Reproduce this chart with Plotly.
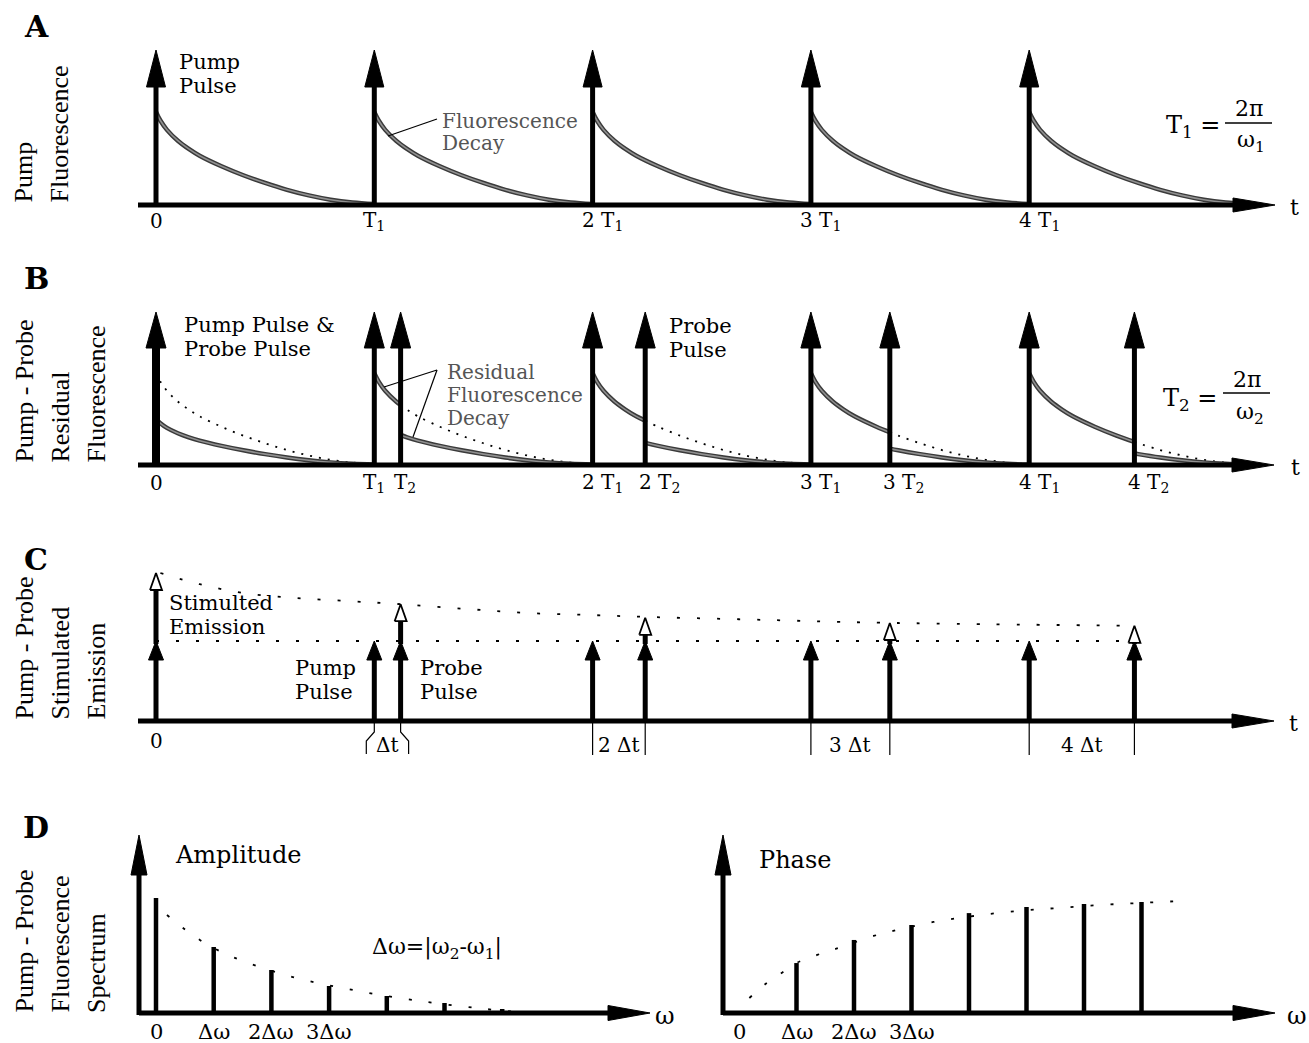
import numpy as np
import plotly.graph_objects as go

W, H = 1309, 1043
SERIF = "DejaVu Serif"
TALL = "Liberation Serif"

# ---------------- values ----------------
periods = [0, 1, 2, 3, 4]
probe_period = 1.1205                              # T2 expressed in units of T1
pump_t = [float(n) for n in periods]               # n*T1
probe_t = [n * probe_period for n in periods]      # n*T2
pump_labels = ["0", "T<sub>1</sub>", "2 T<sub>1</sub>", "3 T<sub>1</sub>", "4 T<sub>1</sub>"]
probe_labels = ["", "T<sub>2</sub>", "2 T<sub>2</sub>", "3 T<sub>2</sub>", "4 T<sub>2</sub>"]
delay_labels = ["", "\u0394t", "2 \u0394t", "3 \u0394t", "4 \u0394t"]

pulse_height = 1.0
decay_dt = [0.0, 0.02, 0.05, 0.10, 0.15, 0.20, 0.30, 0.40, 0.50, 0.60, 0.70, 0.80, 0.90, 1.00]
decay_h = [0.600, 0.545, 0.485, 0.415, 0.362, 0.318, 0.250, 0.192, 0.142, 0.098, 0.062, 0.034, 0.016, 0.006]
residual_fraction = 0.5

pump_height_C = 1.0
stim_tip = [1.85, 1.46, 1.29, 1.225, 1.19]
stim_env_t = [0.02, 0.2, 0.4, 0.63, 0.875, 1.12, 1.425, 1.70, 1.99, 2.26, 2.55, 2.845, 3.12, 3.40, 4.46]
stim_env_h = [1.85, 1.71, 1.60, 1.54, 1.50, 1.46, 1.40, 1.35, 1.325, 1.30, 1.28, 1.26, 1.24, 1.225, 1.19]

harmonics = [0, 1, 2, 3, 4, 5, 6]
amplitude = [1.0, 0.574, 0.374, 0.235, 0.148, 0.087, 0.035]
amp_env_f = [0.19, 0.76, 1.33, 2.37, 3.41, 4.45, 5.56, 6.26]
amp_env_v = [0.852, 0.635, 0.487, 0.313, 0.200, 0.113, 0.043, 0.009]
phase_harmonics = [1, 2, 3, 4, 5, 6, 7]
phase = [0.450, 0.658, 0.793, 0.900, 0.955, 0.982, 1.000]
phase_env_f = [0.18, 0.46, 0.74, 1.0, 1.36, 1.68, 2.34, 2.68, 3.38, 4.08, 4.84, 5.54, 6.27, 6.96, 7.69]
phase_env_v = [0.135, 0.261, 0.360, 0.450, 0.523, 0.577, 0.694, 0.739, 0.820, 0.874, 0.919, 0.946, 0.973, 0.991, 1.009]
freq_labels = ["0", "\u0394\u03c9", "2\u0394\u03c9", "3\u0394\u03c9"]

# ---------------- geometry of the panels (pixels) ----------------
class Panel:
    def __init__(self, n, x0, kx, base, ky, top, bottom):
        self.n = n
        self.xa = "x" if n == 1 else f"x{n}"
        self.ya = "y" if n == 1 else f"y{n}"
        self.x0, self.kx, self.base, self.ky = x0, kx, base, ky
        self.top, self.bottom = top, bottom

    def X(self, px):
        return (px - self.x0) / self.kx

    def Y(self, py):
        return (self.base - py) / self.ky

    def sx(self, px):
        return px / self.kx

    def sy(self, px):
        return px / self.ky


PA = Panel(1, 156, 218.3, 205, 155, 0, 250)
PB = Panel(2, 156, 218.3, 465, 153, 250, 540)
PC = Panel(3, 156, 218.3, 721, 80, 540, 800)
PDL = Panel(4, 156, 57.7, 1013, 115, 800, 1043)
PDR = Panel(5, 739, 57.5, 1013, 111, 800, 1043)
panels = [PA, PB, PC, PDL, PDR]

fig = go.Figure()


def line(p, xs, ys, color="black", width=5, dash=None, shape="linear"):
    fig.add_trace(go.Scatter(x=list(xs), y=list(ys), xaxis=p.xa, yaxis=p.ya, mode="lines",
                             line=dict(color=color, width=width, dash=dash, shape=shape),
                             hoverinfo="skip", showlegend=False))


def poly(p, xs, ys, fill="black", edge="black", lw=1):
    fig.add_trace(go.Scatter(x=xs, y=ys, xaxis=p.xa, yaxis=p.ya, mode="lines", fill="toself",
                             fillcolor=fill, line=dict(color=edge, width=lw),
                             hoverinfo="skip", showlegend=False))


def up_arrow(p, x, y0, tip, head_w, head_h, shaft_w, fill="black", edge_w=1):
    hb = tip - p.sy(head_h)
    line(p, [x, x], [y0, hb + p.sy(2)], width=shaft_w)
    hw = p.sx(head_w / 2)
    poly(p, [x - hw, x, x + hw, x - hw], [hb, tip, hb, hb], fill=fill, lw=edge_w)


def right_axis(p, start_px, tip_px, head_len=42, head_w=14, width=5):
    xs = p.X(start_px)
    xt = p.X(tip_px)
    hb = xt - p.sx(head_len)
    line(p, [xs, hb + p.sx(2)], [0, 0], width=width)
    hw = p.sy(head_w / 2)
    poly(p, [hb, xt, hb, hb], [hw, 0, -hw, hw])


def gray_curve(p, xs, ys):
    line(p, xs, ys, color="#3a3a3a", width=4.5, shape="spline")
    line(p, xs, ys, color="#909090", width=1.6, shape="spline")


DOT_FINE = "2px,7px"
DOT_WIDE = "3px,17px"

# ---------------- Panel A ----------------
for n in periods:
    gray_curve(PA, [pump_t[n] + d for d in decay_dt], decay_h)
right_axis(PA, 138, 1275)
for n in periods:
    up_arrow(PA, pump_t[n], 0, pulse_height, 19, 37, 5)

# ---------------- Panel B ----------------
dts = np.array(decay_dt)
hs = np.array(decay_h)
for n in periods:
    t0 = pump_t[n]
    s = probe_t[n] - t0
    if s <= 0:
        line(PB, t0 + dts, hs, width=1.8, dash=DOT_FINE, shape="spline")
        gray_curve(PB, t0 + dts, hs * residual_fraction)
    else:
        hs_s = float(np.interp(s, dts, hs))
        pre = dts < s
        xpre = np.r_[t0 + dts[pre], t0 + s]
        ypre = np.r_[hs[pre], hs_s]
        xpost = np.r_[t0 + s, t0 + dts[~pre]]
        ypost = np.r_[hs_s, hs[~pre]]
        line(PB, xpost, ypost, width=1.8, dash=DOT_FINE, shape="spline")
        gray_curve(PB, xpre, ypre)
        gray_curve(PB, xpost, ypost * residual_fraction)
right_axis(PB, 138, 1274)
for n in periods:
    up_arrow(PB, pump_t[n], 0, pulse_height, 20, 36, 8 if n == 0 else 5)
    if n > 0:
        up_arrow(PB, probe_t[n], 0, pulse_height, 20, 36, 5)

# ---------------- Panel C ----------------
line(PC, [pump_t[0], probe_t[-1]], [pump_height_C, pump_height_C], width=1.8, dash=DOT_WIDE)
line(PC, stim_env_t, stim_env_h, width=1.8, dash=DOT_WIDE, shape="spline")
right_axis(PC, 138, 1274)
for n in periods:
    up_arrow(PC, pump_t[n], 0, pump_height_C, 15, 19, 5)
    if n > 0:
        up_arrow(PC, probe_t[n], 0, pump_height_C, 15, 19, 5)
    up_arrow(PC, probe_t[n], pump_height_C - PC.sy(3), stim_tip[n], 12, 17, 5, fill="white", edge_w=1.8)
for n in periods[1:]:
    a, b = pump_t[n], probe_t[n]
    if n == 1:
        line(PC, [a, a, a - PC.sx(8), a - PC.sx(8)],
             [0, -PC.sy(11), -PC.sy(20), -PC.sy(33)], width=1.2)
        line(PC, [b, b, b + PC.sx(8), b + PC.sx(8)],
             [0, -PC.sy(11), -PC.sy(20), -PC.sy(33)], width=1.2)
    else:
        line(PC, [a, a], [0, -PC.sy(34)], width=1.2)
        line(PC, [b, b], [0, -PC.sy(34)], width=1.2)

# ---------------- Panel D ----------------
for p, v_start, h_tip, freqs, vals, ef, ev in [
        (PDL, 139, 650, harmonics, amplitude, amp_env_f, amp_env_v),
        (PDR, 723, 1275, phase_harmonics, phase, phase_env_f, phase_env_v)]:
    line(p, ef, ev, width=1.8, dash=DOT_WIDE, shape="spline")
    bx, by = [], []
    for f, v in zip(freqs, vals):
        bx += [f, f, None]
        by += [0, v, None]
    line(p, bx, by, width=4.5)
    right_axis(p, v_start, h_tip, head_len=42, head_w=15)
    up_arrow(p, p.X(v_start), p.Y(1015), p.Y(835), 16, 40, 5)

# ---------------- text ----------------
ann = []
shapes = []


def txt(s, x, y, size=21, color="black", xanchor="left", yanchor="middle",
        family=SERIF, angle=0):
    ann.append(dict(text=s, x=x / W, y=1 - y / H, xref="paper", yref="paper",
                    showarrow=False, xanchor=xanchor, yanchor=yanchor, textangle=angle,
                    font=dict(family=family, size=size, color=color)))


def tick(p, t, s, y, size=20, xshift=0):
    ann.append(dict(text=s, x=t, xref=p.xa, y=1 - y / H, yref="paper", showarrow=False,
                    xanchor="center", yanchor="middle", xshift=xshift,
                    font=dict(family=SERIF, size=size, color="black")))


def seg(x0, y0, x1, y1, w=1.2):
    shapes.append(dict(type="line", xref="paper", yref="paper", x0=x0 / W, y0=1 - y0 / H,
                       x1=x1 / W, y1=1 - y1 / H, line=dict(color="black", width=w)))


# panel letters
for letter, y in [("A", 26), ("B", 278), ("C", 559), ("D", 827)]:
    txt(f"<b>{letter}</b>", 36, y, size=30, xanchor="center")

# rotated axis titles
for lines_, bottom in [(["Pump", "Fluorescence"], 205),
                       (["Pump - Probe", "Residual", "Fluorescence"], 465),
                       (["Pump - Probe", "Stimulated", "Emission"], 722),
                       (["Pump - Probe", "Fluorescence", "Spectrum"], 1015)]:
    for i, s in enumerate(lines_):
        txt(s, [24, 60, 96][i] if len(lines_) == 3 else [23, 59][i], bottom, size=26,
            family=TALL, angle=-90, xanchor="center", yanchor="bottom")

GRAY = "#555555"
# panel A text
txt("Pump", 177, 62)
txt("Pulse", 177, 86)
txt("Fluorescence", 440, 121, size=20, color=GRAY)
txt("Decay", 440, 143, size=20, color=GRAY)
seg(437, 119, 388, 136)
txt("T<sub>1</sub> =", 1222, 126, size=24, xanchor="right")
txt("2\u03c0", 1249, 108, size=22, xanchor="center")
txt("\u03c9<sub>1</sub>", 1251, 141, size=22, xanchor="center")
shapes.append(dict(type="line", xref="paper", yref="paper", x0=1225 / W, x1=1272 / W,
                   y0=1 - 123 / H, y1=1 - 123 / H, line=dict(color="black", width=1.6)))
txt("t", 1294, 207, size=22, xanchor="center")

# panel B text
txt("Pump Pulse &amp;", 182, 325)
txt("Probe Pulse", 182, 349)
txt("Probe", 667, 326)
txt("Pulse", 667, 350)
txt("Residual", 445, 372, size=20, color=GRAY)
txt("Fluorescence", 445, 395, size=20, color=GRAY)
txt("Decay", 445, 418, size=20, color=GRAY)
seg(437, 370, 384, 387)
seg(437, 370, 413, 437)
txt("T<sub>2</sub> =", 1219, 399, size=24, xanchor="right")
txt("2\u03c0", 1247, 380, size=22, xanchor="center")
txt("\u03c9<sub>2</sub>", 1250, 413, size=22, xanchor="center")
shapes.append(dict(type="line", xref="paper", yref="paper", x0=1223 / W, x1=1270 / W,
                   y0=1 - 393 / H, y1=1 - 393 / H, line=dict(color="black", width=1.6)))
txt("t", 1295, 467, size=22, xanchor="center")

# panel C text
txt("Stimulted", 167, 603)
txt("Emission", 167, 627)
txt("Pump", 293, 668)
txt("Pulse", 293, 692)
txt("Probe", 418, 668)
txt("Pulse", 418, 692)
txt("t", 1293, 723, size=22, xanchor="center")

# panel D text
txt("Amplitude", 173, 855, size=24)
txt("Phase", 757, 860, size=24)
txt("\u0394\u03c9=|\u03c9<sub>2</sub>-\u03c9<sub>1</sub>|", 370, 948, size=22)
txt("\u03c9", 665, 1016, size=24, xanchor="center")
txt("\u03c9", 1297, 1016, size=24, xanchor="center")

# tick labels
for n in periods:
    sh = 0 if n < 2 else 10
    tick(PA, pump_t[n], pump_labels[n], 221, xshift=sh)
    tick(PB, pump_t[n], pump_labels[n], 483, xshift=sh)
    if n > 0:
        tick(PB, probe_t[n], probe_labels[n], 483, xshift=(4 if n == 1 else 14))
        tick(PC, (pump_t[n] + probe_t[n]) / 2, delay_labels[n], 745)
tick(PC, pump_t[0], pump_labels[0], 741)
for p in (PDL, PDR):
    for i, s in enumerate(freq_labels):
        tick(p, harmonics[i], s, 1032, size=21)

# ---------------- layout ----------------
layout = dict(width=W, height=H, margin=dict(l=0, r=0, t=0, b=0), autosize=False,
              paper_bgcolor="white", plot_bgcolor="rgba(0,0,0,0)", showlegend=False,
              annotations=ann, shapes=shapes)
for p in panels:
    xk = "xaxis" if p.n == 1 else f"xaxis{p.n}"
    yk = "yaxis" if p.n == 1 else f"yaxis{p.n}"
    layout[xk] = dict(domain=[0, 1], range=[p.X(0), p.X(W)], visible=False,
                      anchor=p.ya, fixedrange=True)
    layout[yk] = dict(domain=[1 - p.bottom / H, 1 - p.top / H], range=[p.Y(p.bottom), p.Y(p.top)],
                      visible=False, anchor=p.xa, fixedrange=True)
fig.update_layout(**layout)
fig.write_html("out.html")
